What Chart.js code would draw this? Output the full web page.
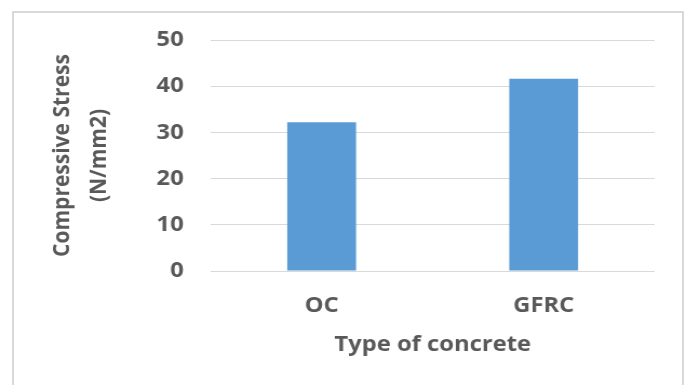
<!DOCTYPE html>
<html>
<head>
<meta charset="utf-8">
<script src="https://cdn.jsdelivr.net/npm/chart.js@4/dist/chart.umd.min.js"></script>
<style>
  html, body { margin: 0; padding: 0; background: #fff; overflow: hidden; }
  #wrap { position: relative; width: 686px; height: 385px; }
  #frame { position: absolute; left: 12px; top: 11px; width: 672px; height: 400px;
           border: 2px solid #d9d9d9; box-sizing: border-box; pointer-events: none; }
  canvas { position: absolute; left: 0; top: 0; }
</style>
</head>
<body>
<div id="wrap">
  <!-- drawn on a slightly narrower canvas and widened to the page for the wide-set lettering -->
  <canvas id="c" width="635" height="385" style="width:686px;height:385px;"></canvas>
  <div id="frame"></div>
</div>
<script>
// Compressive stress by type of concrete
const categories = ['OC', 'GFRC'];
const stressValues = [32.2, 41.6];
const yTicks = [0, 10, 20, 30, 40, 50];

const FONT = '"Open Sans", "Liberation Sans", sans-serif';
const TEXT = '#595959';
const GRID = '#d9d9d9';

new Chart(document.getElementById('c'), {
  type: 'bar',
  data: {
    labels: categories,
    datasets: [{
      data: stressValues,
      backgroundColor: '#5b9bd5',
      borderWidth: 0,
      categoryPercentage: 0.62,
      barPercentage: 0.5
    }]
  },
  options: {
    responsive: false,
    animation: false,
    devicePixelRatio: 1,
    layout: { padding: { left: 20, right: 29, top: 40, bottom: 0 } },
    plugins: { legend: { display: false }, tooltip: { enabled: false } },
    scales: {
      x: {
        grid: { display: false, drawTicks: false },
        border: { display: false },
        ticks: { color: TEXT, font: { family: FONT, size: 22, weight: 'bold' }, padding: 22 },
        title: {
          display: true, text: 'Type of concrete', color: TEXT,
          font: { family: FONT, size: 22, weight: 'bold' },
          padding: { top: 4, bottom: 27 }
        },
        afterFit(axis) { axis.height = 114; }
      },
      y: {
        min: 0, max: 50,
        afterBuildTicks(axis) { axis.ticks = yTicks.map(v => ({ value: v })); },
        grid: { color: GRID, lineWidth: 1, drawTicks: false },
        border: { display: false },
        ticks: { color: TEXT, font: { family: FONT, size: 22, weight: 'bold' }, padding: 25 },
        title: {
          display: true, text: ['Compressive Stress', '(N/mm2)'], color: TEXT,
          font: { family: FONT, size: 21, weight: 'bold', lineHeight: 1.63 },
          padding: { top: 21, bottom: 0 }
        },
        afterFit(axis) { axis.width = 175; }
      }
    }
  }
});
</script>
</body>
</html>
